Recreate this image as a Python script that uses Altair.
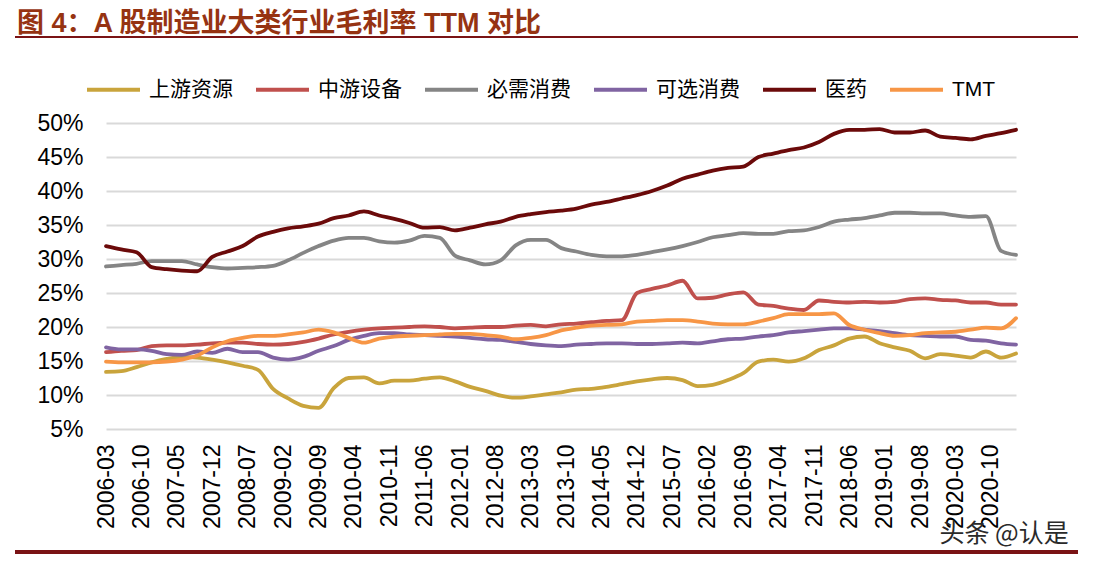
import altair as alt
import pandas as pd

# quarterly observation dates, 2006-03 .. 2021-03
dates = [f"{2006 + (2 + 3 * i) // 12}/{(2 + 3 * i) % 12 + 1:02d}/01" for i in range(61)]

series_names = ["上游资源", "中游设备", "必需消费", "可选消费", "医药", "TMT"]
series_colors = ["#C9A43C", "#C0504D", "#858585", "#8064A2", "#6B0A0A", "#F79646"]

upstream = [13.4, 13.5, 14.1, 14.8, 15.3, 15.6, 15.5, 15.2, 14.8, 14.3, 13.7, 10.9, 9.5, 8.4, 8.1, 11.0,
            12.5, 12.6, 11.7, 12.1, 12.1, 12.4, 12.6, 12.0, 11.2, 10.6, 9.9, 9.6, 9.8, 10.1, 10.4,
            10.8, 10.9, 11.2, 11.6, 12.0, 12.3, 12.5, 12.2, 11.3, 11.5, 12.2, 13.2, 14.9, 15.2, 14.9,
            15.4, 16.6, 17.3, 18.3, 18.6, 17.6, 17.0, 16.5, 15.4, 16.0, 15.8, 15.5, 16.4, 15.5, 16.1]
midstream = [16.3, 16.5, 16.6, 17.2, 17.3, 17.3, 17.4, 17.6, 17.7, 17.7, 17.5, 17.4, 17.5, 17.8, 18.3, 18.9,
             19.3, 19.6, 19.8, 19.9, 20.0, 20.1, 20.0, 19.8, 19.9, 20.0, 20.0, 20.2, 20.3, 20.1, 20.4,
             20.5, 20.7, 20.9, 21.0, 25.0, 25.6, 26.1, 26.8, 24.2, 24.3, 24.8, 25.1, 23.3, 23.1, 22.7,
             22.5, 23.9, 23.7, 23.6, 23.7, 23.6, 23.7, 24.1, 24.2, 24.0, 23.9, 23.6, 23.6, 23.3, 23.3]
staples = [28.9, 29.1, 29.3, 29.7, 29.7, 29.7, 29.2, 28.8, 28.6, 28.7, 28.8, 29.0, 29.8, 30.9, 31.9, 32.7,
           33.1, 33.1, 32.6, 32.4, 32.7, 33.4, 33.1, 30.5, 29.8, 29.2, 29.8, 32.0, 32.8, 32.8, 31.6,
           31.1, 30.6, 30.4, 30.4, 30.6, 31.0, 31.4, 31.9, 32.5, 33.2, 33.5, 33.8, 33.7, 33.7, 34.1,
           34.2, 34.7, 35.5, 35.8, 36.0, 36.4, 36.8, 36.8, 36.7, 36.7, 36.4, 36.2, 36.3, 31.2, 30.6]
discretionary = [17.0, 16.7, 16.7, 16.5, 16.0, 15.9, 16.4, 16.2, 16.8, 16.3, 16.3, 15.5, 15.2, 15.6, 16.5, 17.2,
                 18.1, 18.7, 19.1, 19.1, 18.9, 18.8, 18.7, 18.6, 18.4, 18.2, 18.1, 17.8, 17.5, 17.3, 17.2,
                 17.4, 17.5, 17.6, 17.6, 17.5, 17.5, 17.6, 17.7, 17.6, 17.9, 18.2, 18.3, 18.6, 18.8, 19.2,
                 19.4, 19.6, 19.8, 19.8, 19.6, 19.4, 19.1, 18.8, 18.7, 18.6, 18.6, 18.1, 18.0, 17.6, 17.4]
pharma = [31.9, 31.4, 31.0, 28.8, 28.5, 28.3, 28.2, 30.3, 31.1, 31.9, 33.3, 34.0, 34.5, 34.8, 35.2, 36.0,
          36.4, 37.0, 36.4, 35.9, 35.3, 34.6, 34.7, 34.2, 34.6, 35.1, 35.5, 36.2, 36.6, 36.9, 37.1,
          37.4, 38.0, 38.4, 38.9, 39.4, 40.0, 40.8, 41.8, 42.4, 43.0, 43.4, 43.6, 45.0, 45.5, 46.0,
          46.4, 47.2, 48.4, 49.0, 49.0, 49.1, 48.6, 48.6, 48.9, 48.0, 47.8, 47.6, 48.1, 48.5, 49.0]
tmt = [14.9, 14.8, 14.8, 14.8, 14.9, 15.2, 15.8, 17.0, 17.9, 18.4, 18.7, 18.7, 18.9, 19.2, 19.6, 19.2,
       18.4, 17.7, 18.3, 18.6, 18.7, 18.8, 18.9, 19.0, 19.0, 18.8, 18.6, 18.2, 18.4, 18.8, 19.5,
       19.9, 20.2, 20.3, 20.4, 20.8, 20.9, 21.0, 21.0, 20.8, 20.5, 20.4, 20.4, 20.8, 21.3, 21.9,
       21.9, 21.9, 22.0, 20.3, 19.6, 19.1, 18.7, 18.8, 19.1, 19.2, 19.3, 19.6, 19.9, 19.8, 21.3]

tick_labels = ["2006-03", "2006-10", "2007-05", "2007-12", "2008-07", "2009-02", "2009-09",
               "2010-04", "2010-11", "2011-06", "2012-01", "2012-08", "2013-03", "2013-10",
               "2014-05", "2014-12", "2015-07", "2016-02", "2016-09", "2017-04", "2017-11",
               "2018-06", "2019-01", "2019-08", "2020-03", "2020-10"]
y_ticks = [5, 10, 15, 20, 25, 30, 35, 40, 45, 50]

title_text = "图 4：A 股制造业大类行业毛利率 TTM 对比"
watermark_text = "头条 @认是"

all_values = [upstream, midstream, staples, discretionary, pharma, tmt]
rows = []
for name, vals in zip(series_names, all_values):
    assert len(vals) == len(dates), name
    for d, v in zip(dates, vals):
        rows.append({"date": d, "value": v, "series": name})
df = pd.DataFrame(rows)

tick_dates = [alt.DateTime(year=int(s[:4]), month=int(s[5:]), date=1) for s in tick_labels]

latin_cjk = "Liberation Sans, Arial, Noto Sans CJK SC"

lines = alt.Chart(df).mark_line(strokeWidth=3.8, strokeCap="round", strokeJoin="round", interpolate="monotone").encode(
    x=alt.X("date:T",
            scale=alt.Scale(domain=[alt.DateTime(year=2006, month=3, date=1),
                                    alt.DateTime(year=2021, month=3, date=1)], nice=False),
            axis=alt.Axis(values=tick_dates, format="%Y-%m", formatType="time", labelAngle=270,
                          labelFont="Liberation Sans", labelFontSize=23, labelColor="#000000",
                          labelPadding=15, ticks=False, domain=False, grid=False, title=None,
                          labelOverlap=False, labelFlush=False, labelBound=False)),
    y=alt.Y("value:Q",
            scale=alt.Scale(domain=[5, 50], nice=False, zero=False),
            axis=alt.Axis(values=y_ticks, labelExpr="datum.value + '%'",
                          labelFont="Liberation Sans", labelFontSize=23, labelColor="#000000",
                          labelPadding=23, ticks=False, domain=False, grid=True,
                          gridColor="#D9D9D9", gridWidth=2, title=None)),
    color=alt.Color("series:N",
                    scale=alt.Scale(domain=series_names, range=series_colors),
                    legend=alt.Legend(orient="none", legendX=-21, legendY=-62, direction="horizontal",
                                      title=None, symbolType="stroke", symbolSize=2809,
                                      symbolStrokeWidth=4, labelFont=latin_cjk, labelFontSize=21,
                                      labelColor="#000000", labelOffset=7, columnPadding=15,
                                      padding=0, labelLimit=300)),
    detail="series:N",
)

one = pd.DataFrame({"t": [title_text], "w": [watermark_text]})

title = alt.Chart(one).mark_text(align="left", baseline="alphabetic", fontSize=27, fontWeight="bold",
                                 font=latin_cjk, color="#963312").encode(
    x=alt.value(-89), y=alt.value(-91), text="t:N")

top_rule = alt.Chart(one).mark_rule(color="#7A1315", strokeWidth=2).encode(
    x=alt.value(-91), x2=alt.value(972), y=alt.value(-86))

bottom_rule = alt.Chart(one).mark_rule(color="#7A1315", strokeWidth=4).encode(
    x=alt.value(-91), x2=alt.value(972), y=alt.value(429))

watermark = alt.Chart(one).mark_text(align="center", baseline="alphabetic", fontSize=25,
                                     font="Noto Sans CJK SC", color="#2A2A2A").encode(
    x=alt.value(898), y=alt.value(419), text="w:N")

chart = alt.layer(lines, title, top_rule, bottom_rule, watermark).properties(
    width=910, height=306,
    autosize=alt.AutoSizeParams(type="none"),
    padding={"left": 98, "top": 115, "right": 65, "bottom": 127},
    background="white",
).configure_view(stroke=None)

chart.save("out.html", embed_options={"renderer": "svg", "actions": False})
